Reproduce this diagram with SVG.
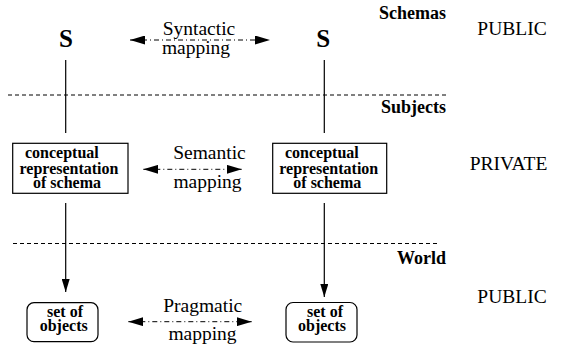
<svg xmlns="http://www.w3.org/2000/svg" width="561" height="350" viewBox="0 0 561 350" font-family="'Liberation Serif', 'DejaVu Serif', serif">
<style>
text{font-family:'Liberation Serif','DejaVu Serif',serif;fill:#000}
.reg{font-size:19.5px}
.bold{font-weight:bold}
.lbl{font-size:18px}
.box{font-size:16px}
.big{font-size:25px}
.solid{stroke:#000;stroke-width:1.2;fill:none}
.dash{stroke:#000;stroke-width:1;stroke-dasharray:4 3;fill:none}
.map{stroke:#000;stroke-width:1;stroke-dasharray:5 3 1 3;fill:none}
.node{fill:#fff;stroke:#000;stroke-width:1.2}
</style>
<defs>
<marker id="ah" markerUnits="userSpaceOnUse" markerWidth="15" markerHeight="9" refX="15" refY="4.5" orient="auto-start-reverse">
<path d="M0,0 L15,4.5 L0,9 z" fill="#000"/>
</marker>
<marker id="av" markerUnits="userSpaceOnUse" markerWidth="13" markerHeight="8" refX="13" refY="4" orient="auto">
<path d="M0,0 L13,4 L0,8 z" fill="#000"/>
</marker>
</defs>

<g id="layers">
<line class="dash" x1="8" y1="95" x2="447" y2="95"/>
<line class="dash" x1="13" y1="243.5" x2="438" y2="243.5"/>
<text class="bold lbl" x="446" y="18.5" text-anchor="end">Schemas</text>
<text class="bold lbl" x="446" y="112.5" text-anchor="end">Subjects</text>
<text class="bold lbl" x="446" y="263.5" text-anchor="end">World</text>
<text class="reg" x="512" y="35" text-anchor="middle">PUBLIC</text>
<text class="reg" x="508.5" y="170" text-anchor="middle">PRIVATE</text>
<text class="reg" x="512" y="303" text-anchor="middle">PUBLIC</text>
</g>

<g id="connectors">
<line class="solid" x1="65.7" y1="60" x2="65.7" y2="133"/>
<line class="solid" x1="324.3" y1="60" x2="324.3" y2="133"/>
<line class="solid" x1="65.7" y1="203" x2="65.7" y2="292" marker-end="url(#av)"/>
<line class="solid" x1="324.3" y1="203" x2="324.3" y2="297" marker-end="url(#av)"/>
<line class="map" x1="130" y1="40" x2="270" y2="40" marker-start="url(#ah)" marker-end="url(#ah)"/>
<line class="map" x1="143.3" y1="169.3" x2="241.7" y2="169.3" marker-start="url(#ah)" marker-end="url(#ah)"/>
<line class="map" x1="128.3" y1="321.7" x2="251.7" y2="321.7" marker-start="url(#ah)" marker-end="url(#ah)"/>
<text class="reg" x="199" y="35" text-anchor="middle">Syntactic</text>
<text class="reg" x="196" y="54" text-anchor="middle">mapping</text>
<text class="reg" x="209.5" y="159" text-anchor="middle">Semantic</text>
<text class="reg" x="207.5" y="188" text-anchor="middle">mapping</text>
<text class="reg" x="202.7" y="311.5" text-anchor="middle">Pragmatic</text>
<text class="reg" x="202.5" y="340" text-anchor="middle">mapping</text>
</g>

<g id="schema-left">
<text class="bold big" x="66" y="46.5" text-anchor="middle">S</text>
</g>
<g id="schema-right">
<text class="bold big" x="323.3" y="46.5" text-anchor="middle">S</text>
</g>

<g id="concept-left">
<rect class="node" x="12.7" y="143.3" width="115.3" height="50"/>
<text class="bold box" x="25" y="158">conceptual</text>
<text class="bold box" x="19.5" y="173.5">representation</text>
<text class="bold box" x="33" y="188">of schema</text>
</g>
<g id="concept-right">
<rect class="node" x="272.7" y="143.3" width="114" height="50"/>
<text class="bold box" x="285" y="158">conceptual</text>
<text class="bold box" x="279.3" y="173.5">representation</text>
<text class="bold box" x="293.3" y="188">of schema</text>
</g>

<g id="objects-left">
<rect class="node" x="27" y="302.7" width="71" height="39" rx="7"/>
<text class="bold box" x="65" y="316.5" text-anchor="middle">set of</text>
<text class="bold box" x="63.7" y="331" text-anchor="middle">objects</text>
</g>
<g id="objects-right">
<rect class="node" x="286" y="302.5" width="71" height="39.5" rx="7"/>
<text class="bold box" x="325" y="316.5" text-anchor="middle">set of</text>
<text class="bold box" x="322" y="331" text-anchor="middle">objects</text>
</g>
</svg>
